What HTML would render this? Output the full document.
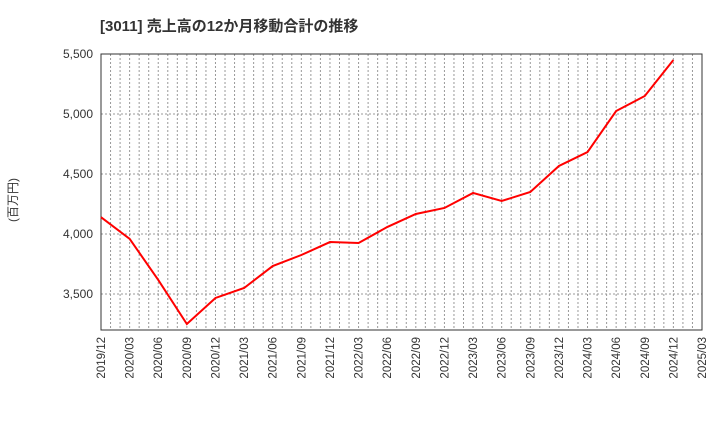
<!DOCTYPE html>
<html><head><meta charset="utf-8"><style>
body{margin:0;background:#fff;}
svg text{font-family:"Liberation Sans","Noto Sans CJK JP",sans-serif;}
</style></head><body>
<svg id="chart" width="720" height="440" xmlns="http://www.w3.org/2000/svg">
<text x="100" y="31" font-size="15" font-weight="bold" fill="#333">[3011]  売上高の12か月移動合計の推移</text>
<text transform="translate(17,200) rotate(-90)" font-size="12" fill="#333" text-anchor="middle">(百万円)</text>
<g id="grid"></g><g id="axes"></g><g id="series"></g>
</svg>
<script>
const categories=["2019/12","2020/03","2020/06","2020/09","2020/12","2021/03","2021/06","2021/09","2021/12","2022/03","2022/06","2022/09","2022/12","2023/03","2023/06","2023/09","2023/12","2024/03","2024/06","2024/09","2024/12","2025/03"];
const values=[4140,3960,3617,3250,3467,3550,3733,3825,3933,3925,4058,4167,4217,4342,4275,4350,4567,4683,5025,5150,5450];
const yTicks=[3500,4000,4500,5000,5500];
const yTickLabels=["3,500","4,000","4,500","5,000","5,500"];
const NS="http://www.w3.org/2000/svg";
const L=101,R=702,T=54,B=330,yMin=3200,yMax=5500;
const months=(categories.length-1)*3;
const x=i=>L+(R-L)*i/(categories.length-1);
const xm=m=>L+(R-L)*m/months;
const y=v=>B-(v-yMin)/(yMax-yMin)*(B-T);
function mk(tag,attrs,parent){const e=document.createElementNS(NS,tag);for(const k in attrs)e.setAttribute(k,attrs[k]);parent.appendChild(e);return e;}
const grid=document.getElementById('grid'),axes=document.getElementById('axes'),series=document.getElementById('series');
for(let m=1;m<months;m++){const l=mk('line',{x1:xm(m),x2:xm(m),y1:T,y2:B,stroke:'#999','stroke-dasharray':'2,2','stroke-width':1},grid);

}
yTicks.forEach((v,i)=>{const l=mk('line',{x1:L,x2:R,y1:y(v),y2:y(v),stroke:'#999','stroke-dasharray':'2,2'},grid);


const t=mk('text',{x:L-8,y:y(v)+4,'text-anchor':'end','font-size':12,fill:'#333'},axes);t.textContent=yTickLabels[i];

});
categories.forEach((c,i)=>{const t=mk('text',{transform:`translate(${x(i)+4},${B+7}) rotate(-90)`,'text-anchor':'end','font-size':11.5,fill:'#333'},axes);t.textContent=c;

});
const frame=mk('rect',{x:L,y:T,width:R-L,height:B-T,fill:'none',stroke:'#333','stroke-width':1},axes);


const line=mk('polyline',{points:values.map((v,i)=>x(i)+','+y(v)).join(' '),fill:'none',stroke:'#f00','stroke-width':2},series);


</script>
</body></html>
